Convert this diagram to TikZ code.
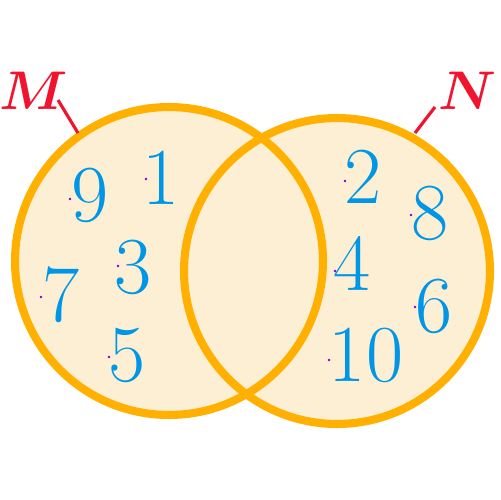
\documentclass[tikz,border=0pt]{standalone}
\usepackage{fix-cm}
\usepackage{amsmath}
\usepackage{fontspec}
\usepackage{tikz}
\usetikzlibrary{positioning}
\definecolor{ringc}{HTML}{FFB000}
\definecolor{fillc}{HTML}{FDEFD4}
\definecolor{numc}{HTML}{0096E6}
\definecolor{setc}{HTML}{F0142F}
\definecolor{dotc}{HTML}{7A00E0}

\begin{document}
\begin{tikzpicture}[x=0.02cm, y=-0.02cm,
    ring/.style={draw=ringc, line width=4.6pt},
    num/.style={inner sep=0pt, text=numc, font=\fontsize{46}{46}\selectfont},
    setname/.style={inner sep=0pt, text=setc, font=\fontsize{31}{31}\selectfont},
    pin/.style={draw=setc, line width=1.8pt},
    dot/.style={fill=dotc}
]
\useasboundingbox (0,0) rectangle (500,500);
\coordinate (cM) at (169,261);
\coordinate (cN) at (337,271);
% sets
\fill[fillc] (cM) circle (3.08cm);
\fill[fillc] (cN) circle (3.06cm);
\draw[ring] (cM) circle (3.08cm);
\draw[ring] (cN) circle (3.06cm);
% set names
\node[setname] (lblM) at (34,91) {$\boldsymbol{M}$};
\node[setname] (lblN) at (467,91) {$\boldsymbol{N}$};
\coordinate (mA) at (58,100);
\coordinate (mB) at (78,133);
\coordinate (nA) at (435,107);
\coordinate (nB) at (415,133);
\draw[pin] (mA) -- (mB);
\draw[pin] (nA) -- (nB);
% elements of M
\node[num] (n9) at (90,195) {9};
\node[num] (n1) at (161,178) {1};
\node[num] (n3) at (133,267) {3};
\node[num] (n7) at (61,295) {7};
\node[num] (n5) at (127,355) {5};
% elements of N
\node[num] (n2) at (363,177) {2};
\node[num] (n8) at (430,213) {8};
\node[num] (n4) at (352,263) {4};
\node[num] (n6) at (434,306) {6};
\node[num] (n10) at (366,355) {10};
% marks
\foreach \p in {(70,199),(146,179),(118,266),(41,297),(109,357),(345,181),(411,215),(335,271),(415,307),(329,360)}
    \fill[dot] \p circle (0.8pt);
\end{tikzpicture}
\end{document}
